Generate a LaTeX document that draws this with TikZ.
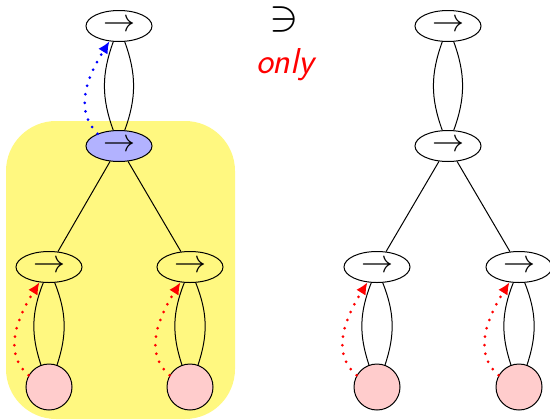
\documentclass[tikz,border=0pt]{standalone}
\usepackage{graphicx}
\usetikzlibrary{shapes.geometric,arrows.meta}
\begin{document}
\begin{tikzpicture}[x=0.5pt,y=0.5pt,
  ell/.style={draw,ellipse,line width=0.5pt,minimum width=33pt,minimum height=15.5pt,inner sep=0pt},
  leaf/.style={draw,circle,line width=0.5pt,fill=red!20,minimum size=23pt,inner sep=0pt},
  edge/.style={line width=0.5pt},
  dotarrow/.style={line width=1.5pt,line cap=round,dash pattern=on 0pt off 4.3pt,-{Latex[length=6pt,width=5.5pt]}}
]
\useasboundingbox (0,0) rectangle (550,419);
\fill[yellow!50,rounded corners=25pt] (6,0) rectangle (235,298);
\newcommand{\arr}{\scalebox{1.6}{$\rightarrow$}}
% left tree
\node[ell] (T1) at (119,393) {\arr};
\node[ell,fill=blue!30] (M1) at (119,273) {\arr};
\node[ell] (L1) at (49,152) {\arr};
\node[ell] (R1) at (190,152) {\arr};
\node[leaf] (CL1) at (49,32) {};
\node[leaf] (CR1) at (190,32) {};
% right tree
\node[ell] (T2) at (448,393) {\arr};
\node[ell] (M2) at (448,273) {\arr};
\node[ell] (L2) at (377,152) {\arr};
\node[ell] (R2) at (519,152) {\arr};
\node[leaf] (CL2) at (377,32) {};
\node[leaf] (CR2) at (519,32) {};
% texts
\node[inner sep=0pt] (ni) at (284,399) {\scalebox{2.2}{$\ni$}};
\node[text=red] (only) at (285,354) {\fontsize{18}{21}\selectfont\sffamily\itshape only};
% edges
\foreach \a/\b in {T1/M1,L1/CL1,R1/CR1,T2/M2,L2/CL2,R2/CR2}{
  \draw[edge] (\a) to[bend left=20] (\b);
  \draw[edge] (\a) to[bend right=20] (\b);
}
\foreach \a/\b in {M1/L1,M1/R1,M2/L2,M2/R2}{
  \draw[edge] (\a) -- (\b);
}
% dotted arrows
\foreach \c/\e in {CL1/L1,CR1/R1,CL2/L2,CR2/R2}{
  \draw[red,dotarrow] (\c.150) to[out=140,in=238] (\e.238);
}
\draw[blue,dotarrow] (M1.150) to[out=135,in=238] (T1.238);
\end{tikzpicture}
\end{document}
